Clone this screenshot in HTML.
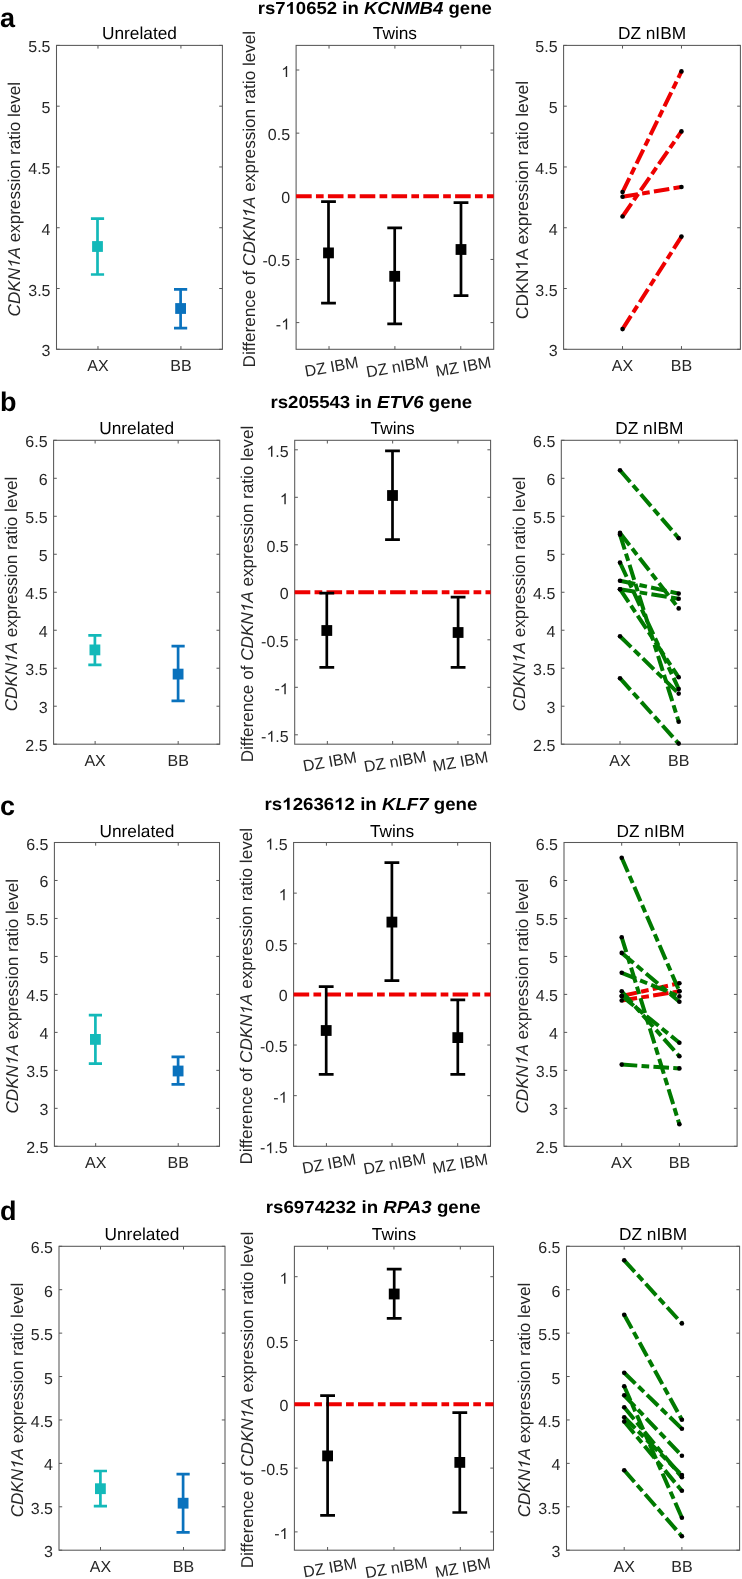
<!DOCTYPE html>
<html><head><meta charset="utf-8"><style>
html,body{margin:0;padding:0;background:#fff;}
body{width:742px;height:1579px;overflow:hidden;}
svg{display:block;text-rendering:geometricPrecision;will-change:transform;}
</style></head><body>
<svg width="742" height="1579" viewBox="0 0 742 1579" font-family='"Liberation Sans", sans-serif'>
<rect width="742" height="1579" fill="#fff"/>
<text x="0.00" y="26.50" font-size="27" text-anchor="start" font-weight="bold" font-style="normal" fill="#000" >a</text>
<text id="tx1" x="257.70" y="14.00" font-size="17.5" font-weight="bold" textLength="234.10" lengthAdjust="spacingAndGlyphs" fill="#000">rs7 0652 in <tspan font-style="italic">KCNMB4</tspan> gene</text>
<g fill="#000"><path transform="translate(285.55 14.00) scale(0.00908 -0.00818)" d="M806 0H525V1059C422 963 301 891 162 845V1100C235 1124 315 1169 401 1236C487 1303 546 1381 578 1472H806Z"/></g>
<path d="M97.97 349.30V346.10M97.97 45.40V48.60" stroke="#585858" stroke-width="1"/>
<path d="M180.93 349.30V346.10M180.93 45.40V48.60" stroke="#585858" stroke-width="1"/>
<path d="M56.50 349.30H59.70M222.40 349.30H219.20" stroke="#585858" stroke-width="1"/>
<path d="M56.50 288.52H59.70M222.40 288.52H219.20" stroke="#585858" stroke-width="1"/>
<path d="M56.50 227.74H59.70M222.40 227.74H219.20" stroke="#585858" stroke-width="1"/>
<path d="M56.50 166.96H59.70M222.40 166.96H219.20" stroke="#585858" stroke-width="1"/>
<path d="M56.50 106.18H59.70M222.40 106.18H219.20" stroke="#585858" stroke-width="1"/>
<path d="M56.50 45.40H59.70M222.40 45.40H219.20" stroke="#585858" stroke-width="1"/>
<rect x="56.50" y="45.40" width="165.90" height="303.90" fill="none" stroke="#585858" stroke-width="1.05"/>
<text x="50.50" y="356.30" font-size="16" text-anchor="end" font-weight="normal" font-style="normal" fill="#262626" >3</text>
<text x="50.50" y="295.52" font-size="16" text-anchor="end" font-weight="normal" font-style="normal" fill="#262626" >3.5</text>
<text x="50.50" y="234.74" font-size="16" text-anchor="end" font-weight="normal" font-style="normal" fill="#262626" >4</text>
<text x="50.50" y="173.96" font-size="16" text-anchor="end" font-weight="normal" font-style="normal" fill="#262626" >4.5</text>
<text x="50.50" y="113.18" font-size="16" text-anchor="end" font-weight="normal" font-style="normal" fill="#262626" >5</text>
<text x="50.50" y="52.40" font-size="16" text-anchor="end" font-weight="normal" font-style="normal" fill="#262626" >5.5</text>
<text x="97.97" y="371.30" font-size="16" text-anchor="middle" font-weight="normal" font-style="normal" fill="#262626" >AX</text>
<text x="180.93" y="371.30" font-size="16" text-anchor="middle" font-weight="normal" font-style="normal" fill="#262626" >BB</text>
<text x="139.45" y="39.40" font-size="17.3" text-anchor="middle" font-weight="normal" font-style="normal" fill="#000" >Unrelated</text>
<text id="tx2" transform="translate(19.80 199.15) rotate(-90)" font-size="17.1" text-anchor="middle" textLength="234.60" lengthAdjust="spacingAndGlyphs" fill="#262626"><tspan font-style="italic">CDKN A</tspan> expression ratio level</text>
<g fill="#262626" transform="translate(19.80 199.15) rotate(-90)"><path transform="translate(-68.89 0.00) scale(0.00837 -0.00799) skewX(12) translate(-140 0)" d="M763 0H583V1147C540 1106 483 1065 413 1024C343 983 280 952 224 930V1104C325 1151 413 1208 488 1276C563 1344 616 1409 648 1472H763Z"/></g>
<path d="M329.03 349.30V346.10M329.03 45.40V48.60" stroke="#585858" stroke-width="1"/>
<path d="M394.90 349.30V346.10M394.90 45.40V48.60" stroke="#585858" stroke-width="1"/>
<path d="M460.77 349.30V346.10M460.77 45.40V48.60" stroke="#585858" stroke-width="1"/>
<path d="M296.10 322.60H299.30M493.70 322.60H490.50" stroke="#585858" stroke-width="1"/>
<path d="M296.10 259.45H299.30M493.70 259.45H490.50" stroke="#585858" stroke-width="1"/>
<path d="M296.10 196.30H299.30M493.70 196.30H490.50" stroke="#585858" stroke-width="1"/>
<path d="M296.10 133.15H299.30M493.70 133.15H490.50" stroke="#585858" stroke-width="1"/>
<path d="M296.10 70.00H299.30M493.70 70.00H490.50" stroke="#585858" stroke-width="1"/>
<rect x="296.10" y="45.40" width="197.60" height="303.90" fill="none" stroke="#585858" stroke-width="1.05"/>
<text x="290.10" y="329.60" font-size="16" text-anchor="end" font-weight="normal" font-style="normal" fill="#262626" >- </text>
<path transform="translate(281.20 329.60) scale(0.00781 -0.00748)" d="M763 0H583V1147C540 1106 483 1065 413 1024C343 983 280 952 224 930V1104C325 1151 413 1208 488 1276C563 1344 616 1409 648 1472H763Z" fill="#262626"/>
<text x="290.10" y="266.45" font-size="16" text-anchor="end" font-weight="normal" font-style="normal" fill="#262626" >-0.5</text>
<text x="290.10" y="203.30" font-size="16" text-anchor="end" font-weight="normal" font-style="normal" fill="#262626" >0</text>
<text x="290.10" y="140.15" font-size="16" text-anchor="end" font-weight="normal" font-style="normal" fill="#262626" >0.5</text>
<text x="290.10" y="77.00" font-size="16" text-anchor="end" font-weight="normal" font-style="normal" fill="#262626" > </text>
<path transform="translate(281.20 77.00) scale(0.00781 -0.00748)" d="M763 0H583V1147C540 1106 483 1065 413 1024C343 983 280 952 224 930V1104C325 1151 413 1208 488 1276C563 1344 616 1409 648 1472H763Z" fill="#262626"/>
<text transform="translate(331.73 367.80) rotate(-10)" font-size="16" text-anchor="middle" fill="#262626" dominant-baseline="middle">DZ IBM</text>
<text transform="translate(397.60 367.80) rotate(-10)" font-size="16" text-anchor="middle" fill="#262626" dominant-baseline="middle">DZ nIBM</text>
<text transform="translate(463.47 367.80) rotate(-10)" font-size="16" text-anchor="middle" fill="#262626" dominant-baseline="middle">MZ IBM</text>
<text x="394.90" y="39.40" font-size="17.3" text-anchor="middle" font-weight="normal" font-style="normal" fill="#000" >Twins</text>
<text id="tx3" transform="translate(254.70 199.15) rotate(-90)" font-size="17.1" text-anchor="middle" textLength="336.60" lengthAdjust="spacingAndGlyphs" fill="#262626">Difference of <tspan font-style="italic">CDKN A</tspan> expression ratio level</text>
<g fill="#262626" transform="translate(254.70 199.15) rotate(-90)"><path transform="translate(-18.27 0.00) scale(0.00838 -0.00799) skewX(12) translate(-140 0)" d="M763 0H583V1147C540 1106 483 1065 413 1024C343 983 280 952 224 930V1104C325 1151 413 1208 488 1276C563 1344 616 1409 648 1472H763Z"/></g>
<path d="M622.53 349.30V346.10M622.53 45.40V48.60" stroke="#585858" stroke-width="1"/>
<path d="M681.47 349.30V346.10M681.47 45.40V48.60" stroke="#585858" stroke-width="1"/>
<path d="M563.60 349.30H566.80M740.40 349.30H737.20" stroke="#585858" stroke-width="1"/>
<path d="M563.60 288.52H566.80M740.40 288.52H737.20" stroke="#585858" stroke-width="1"/>
<path d="M563.60 227.74H566.80M740.40 227.74H737.20" stroke="#585858" stroke-width="1"/>
<path d="M563.60 166.96H566.80M740.40 166.96H737.20" stroke="#585858" stroke-width="1"/>
<path d="M563.60 106.18H566.80M740.40 106.18H737.20" stroke="#585858" stroke-width="1"/>
<path d="M563.60 45.40H566.80M740.40 45.40H737.20" stroke="#585858" stroke-width="1"/>
<rect x="563.60" y="45.40" width="176.80" height="303.90" fill="none" stroke="#585858" stroke-width="1.05"/>
<text x="557.60" y="356.30" font-size="16" text-anchor="end" font-weight="normal" font-style="normal" fill="#262626" >3</text>
<text x="557.60" y="295.52" font-size="16" text-anchor="end" font-weight="normal" font-style="normal" fill="#262626" >3.5</text>
<text x="557.60" y="234.74" font-size="16" text-anchor="end" font-weight="normal" font-style="normal" fill="#262626" >4</text>
<text x="557.60" y="173.96" font-size="16" text-anchor="end" font-weight="normal" font-style="normal" fill="#262626" >4.5</text>
<text x="557.60" y="113.18" font-size="16" text-anchor="end" font-weight="normal" font-style="normal" fill="#262626" >5</text>
<text x="557.60" y="52.40" font-size="16" text-anchor="end" font-weight="normal" font-style="normal" fill="#262626" >5.5</text>
<text x="622.53" y="371.30" font-size="16" text-anchor="middle" font-weight="normal" font-style="normal" fill="#262626" >AX</text>
<text x="681.47" y="371.30" font-size="16" text-anchor="middle" font-weight="normal" font-style="normal" fill="#262626" >BB</text>
<text x="652.00" y="39.40" font-size="17.3" text-anchor="middle" font-weight="normal" font-style="normal" fill="#000" >DZ nIBM</text>
<text id="tx4" transform="translate(527.60 200.05) rotate(-90)" font-size="17.1" text-anchor="middle" textLength="238.20" lengthAdjust="spacingAndGlyphs" fill="#262626">CDKN A expression ratio level</text>
<g fill="#262626" transform="translate(527.60 200.05) rotate(-90)"><path transform="translate(-69.75 0.00) scale(0.00853 -0.00799)" d="M763 0H583V1147C540 1106 483 1065 413 1024C343 983 280 952 224 930V1104C325 1151 413 1208 488 1276C563 1344 616 1409 648 1472H763Z"/></g>
<text x="0.00" y="411.20" font-size="27" text-anchor="start" font-weight="bold" font-style="normal" fill="#000" >b</text>
<text id="tx5" x="270.50" y="407.80" font-size="17.5" font-weight="bold" textLength="201.70" lengthAdjust="spacingAndGlyphs" fill="#000">rs205543 in <tspan font-style="italic">ETV6</tspan> gene</text>
<path d="M95.12 744.20V741.00M95.12 440.30V443.50" stroke="#585858" stroke-width="1"/>
<path d="M178.17 744.20V741.00M178.17 440.30V443.50" stroke="#585858" stroke-width="1"/>
<path d="M53.60 744.20H56.80M219.70 744.20H216.50" stroke="#585858" stroke-width="1"/>
<path d="M53.60 706.21H56.80M219.70 706.21H216.50" stroke="#585858" stroke-width="1"/>
<path d="M53.60 668.23H56.80M219.70 668.23H216.50" stroke="#585858" stroke-width="1"/>
<path d="M53.60 630.24H56.80M219.70 630.24H216.50" stroke="#585858" stroke-width="1"/>
<path d="M53.60 592.25H56.80M219.70 592.25H216.50" stroke="#585858" stroke-width="1"/>
<path d="M53.60 554.26H56.80M219.70 554.26H216.50" stroke="#585858" stroke-width="1"/>
<path d="M53.60 516.28H56.80M219.70 516.28H216.50" stroke="#585858" stroke-width="1"/>
<path d="M53.60 478.29H56.80M219.70 478.29H216.50" stroke="#585858" stroke-width="1"/>
<path d="M53.60 440.30H56.80M219.70 440.30H216.50" stroke="#585858" stroke-width="1"/>
<rect x="53.60" y="440.30" width="166.10" height="303.90" fill="none" stroke="#585858" stroke-width="1.05"/>
<text x="47.60" y="751.20" font-size="16" text-anchor="end" font-weight="normal" font-style="normal" fill="#262626" >2.5</text>
<text x="47.60" y="713.21" font-size="16" text-anchor="end" font-weight="normal" font-style="normal" fill="#262626" >3</text>
<text x="47.60" y="675.23" font-size="16" text-anchor="end" font-weight="normal" font-style="normal" fill="#262626" >3.5</text>
<text x="47.60" y="637.24" font-size="16" text-anchor="end" font-weight="normal" font-style="normal" fill="#262626" >4</text>
<text x="47.60" y="599.25" font-size="16" text-anchor="end" font-weight="normal" font-style="normal" fill="#262626" >4.5</text>
<text x="47.60" y="561.26" font-size="16" text-anchor="end" font-weight="normal" font-style="normal" fill="#262626" >5</text>
<text x="47.60" y="523.28" font-size="16" text-anchor="end" font-weight="normal" font-style="normal" fill="#262626" >5.5</text>
<text x="47.60" y="485.29" font-size="16" text-anchor="end" font-weight="normal" font-style="normal" fill="#262626" >6</text>
<text x="47.60" y="447.30" font-size="16" text-anchor="end" font-weight="normal" font-style="normal" fill="#262626" >6.5</text>
<text x="95.12" y="766.20" font-size="16" text-anchor="middle" font-weight="normal" font-style="normal" fill="#262626" >AX</text>
<text x="178.17" y="766.20" font-size="16" text-anchor="middle" font-weight="normal" font-style="normal" fill="#262626" >BB</text>
<text x="136.65" y="434.30" font-size="17.3" text-anchor="middle" font-weight="normal" font-style="normal" fill="#000" >Unrelated</text>
<text id="tx6" transform="translate(17.10 594.05) rotate(-90)" font-size="17.1" text-anchor="middle" textLength="234.60" lengthAdjust="spacingAndGlyphs" fill="#262626"><tspan font-style="italic">CDKN A</tspan> expression ratio level</text>
<g fill="#262626" transform="translate(17.10 594.05) rotate(-90)"><path transform="translate(-68.89 0.00) scale(0.00837 -0.00799) skewX(12) translate(-140 0)" d="M763 0H583V1147C540 1106 483 1065 413 1024C343 983 280 952 224 930V1104C325 1151 413 1208 488 1276C563 1344 616 1409 648 1472H763Z"/></g>
<path d="M327.35 744.20V741.00M327.35 440.30V443.50" stroke="#585858" stroke-width="1"/>
<path d="M392.65 744.20V741.00M392.65 440.30V443.50" stroke="#585858" stroke-width="1"/>
<path d="M457.95 744.20V741.00M457.95 440.30V443.50" stroke="#585858" stroke-width="1"/>
<path d="M294.70 734.80H297.90M490.60 734.80H487.40" stroke="#585858" stroke-width="1"/>
<path d="M294.70 687.30H297.90M490.60 687.30H487.40" stroke="#585858" stroke-width="1"/>
<path d="M294.70 639.80H297.90M490.60 639.80H487.40" stroke="#585858" stroke-width="1"/>
<path d="M294.70 592.30H297.90M490.60 592.30H487.40" stroke="#585858" stroke-width="1"/>
<path d="M294.70 544.80H297.90M490.60 544.80H487.40" stroke="#585858" stroke-width="1"/>
<path d="M294.70 497.30H297.90M490.60 497.30H487.40" stroke="#585858" stroke-width="1"/>
<path d="M294.70 449.80H297.90M490.60 449.80H487.40" stroke="#585858" stroke-width="1"/>
<rect x="294.70" y="440.30" width="195.90" height="303.90" fill="none" stroke="#585858" stroke-width="1.05"/>
<text x="288.70" y="741.80" font-size="16" text-anchor="end" font-weight="normal" font-style="normal" fill="#262626" >- .5</text>
<path transform="translate(266.46 741.80) scale(0.00781 -0.00748)" d="M763 0H583V1147C540 1106 483 1065 413 1024C343 983 280 952 224 930V1104C325 1151 413 1208 488 1276C563 1344 616 1409 648 1472H763Z" fill="#262626"/>
<text x="288.70" y="694.30" font-size="16" text-anchor="end" font-weight="normal" font-style="normal" fill="#262626" >- </text>
<path transform="translate(279.80 694.30) scale(0.00781 -0.00748)" d="M763 0H583V1147C540 1106 483 1065 413 1024C343 983 280 952 224 930V1104C325 1151 413 1208 488 1276C563 1344 616 1409 648 1472H763Z" fill="#262626"/>
<text x="288.70" y="646.80" font-size="16" text-anchor="end" font-weight="normal" font-style="normal" fill="#262626" >-0.5</text>
<text x="288.70" y="599.30" font-size="16" text-anchor="end" font-weight="normal" font-style="normal" fill="#262626" >0</text>
<text x="288.70" y="551.80" font-size="16" text-anchor="end" font-weight="normal" font-style="normal" fill="#262626" >0.5</text>
<text x="288.70" y="504.30" font-size="16" text-anchor="end" font-weight="normal" font-style="normal" fill="#262626" > </text>
<path transform="translate(279.80 504.30) scale(0.00781 -0.00748)" d="M763 0H583V1147C540 1106 483 1065 413 1024C343 983 280 952 224 930V1104C325 1151 413 1208 488 1276C563 1344 616 1409 648 1472H763Z" fill="#262626"/>
<text x="288.70" y="456.80" font-size="16" text-anchor="end" font-weight="normal" font-style="normal" fill="#262626" > .5</text>
<path transform="translate(266.46 456.80) scale(0.00781 -0.00748)" d="M763 0H583V1147C540 1106 483 1065 413 1024C343 983 280 952 224 930V1104C325 1151 413 1208 488 1276C563 1344 616 1409 648 1472H763Z" fill="#262626"/>
<text transform="translate(330.05 762.70) rotate(-10)" font-size="16" text-anchor="middle" fill="#262626" dominant-baseline="middle">DZ IBM</text>
<text transform="translate(395.35 762.70) rotate(-10)" font-size="16" text-anchor="middle" fill="#262626" dominant-baseline="middle">DZ nIBM</text>
<text transform="translate(460.65 762.70) rotate(-10)" font-size="16" text-anchor="middle" fill="#262626" dominant-baseline="middle">MZ IBM</text>
<text x="392.65" y="434.30" font-size="17.3" text-anchor="middle" font-weight="normal" font-style="normal" fill="#000" >Twins</text>
<text id="tx7" transform="translate(252.90 594.05) rotate(-90)" font-size="17.1" text-anchor="middle" textLength="336.60" lengthAdjust="spacingAndGlyphs" fill="#262626">Difference of <tspan font-style="italic">CDKN A</tspan> expression ratio level</text>
<g fill="#262626" transform="translate(252.90 594.05) rotate(-90)"><path transform="translate(-18.27 0.00) scale(0.00838 -0.00799) skewX(12) translate(-140 0)" d="M763 0H583V1147C540 1106 483 1065 413 1024C343 983 280 952 224 930V1104C325 1151 413 1208 488 1276C563 1344 616 1409 648 1472H763Z"/></g>
<path d="M620.00 744.20V741.00M620.00 440.30V443.50" stroke="#585858" stroke-width="1"/>
<path d="M678.70 744.20V741.00M678.70 440.30V443.50" stroke="#585858" stroke-width="1"/>
<path d="M561.30 744.20H564.50M737.40 744.20H734.20" stroke="#585858" stroke-width="1"/>
<path d="M561.30 706.21H564.50M737.40 706.21H734.20" stroke="#585858" stroke-width="1"/>
<path d="M561.30 668.23H564.50M737.40 668.23H734.20" stroke="#585858" stroke-width="1"/>
<path d="M561.30 630.24H564.50M737.40 630.24H734.20" stroke="#585858" stroke-width="1"/>
<path d="M561.30 592.25H564.50M737.40 592.25H734.20" stroke="#585858" stroke-width="1"/>
<path d="M561.30 554.26H564.50M737.40 554.26H734.20" stroke="#585858" stroke-width="1"/>
<path d="M561.30 516.28H564.50M737.40 516.28H734.20" stroke="#585858" stroke-width="1"/>
<path d="M561.30 478.29H564.50M737.40 478.29H734.20" stroke="#585858" stroke-width="1"/>
<path d="M561.30 440.30H564.50M737.40 440.30H734.20" stroke="#585858" stroke-width="1"/>
<rect x="561.30" y="440.30" width="176.10" height="303.90" fill="none" stroke="#585858" stroke-width="1.05"/>
<text x="555.30" y="751.20" font-size="16" text-anchor="end" font-weight="normal" font-style="normal" fill="#262626" >2.5</text>
<text x="555.30" y="713.21" font-size="16" text-anchor="end" font-weight="normal" font-style="normal" fill="#262626" >3</text>
<text x="555.30" y="675.23" font-size="16" text-anchor="end" font-weight="normal" font-style="normal" fill="#262626" >3.5</text>
<text x="555.30" y="637.24" font-size="16" text-anchor="end" font-weight="normal" font-style="normal" fill="#262626" >4</text>
<text x="555.30" y="599.25" font-size="16" text-anchor="end" font-weight="normal" font-style="normal" fill="#262626" >4.5</text>
<text x="555.30" y="561.26" font-size="16" text-anchor="end" font-weight="normal" font-style="normal" fill="#262626" >5</text>
<text x="555.30" y="523.28" font-size="16" text-anchor="end" font-weight="normal" font-style="normal" fill="#262626" >5.5</text>
<text x="555.30" y="485.29" font-size="16" text-anchor="end" font-weight="normal" font-style="normal" fill="#262626" >6</text>
<text x="555.30" y="447.30" font-size="16" text-anchor="end" font-weight="normal" font-style="normal" fill="#262626" >6.5</text>
<text x="620.00" y="766.20" font-size="16" text-anchor="middle" font-weight="normal" font-style="normal" fill="#262626" >AX</text>
<text x="678.70" y="766.20" font-size="16" text-anchor="middle" font-weight="normal" font-style="normal" fill="#262626" >BB</text>
<text x="649.35" y="434.30" font-size="17.3" text-anchor="middle" font-weight="normal" font-style="normal" fill="#000" >DZ nIBM</text>
<text id="tx8" transform="translate(524.70 594.05) rotate(-90)" font-size="17.1" text-anchor="middle" textLength="234.60" lengthAdjust="spacingAndGlyphs" fill="#262626"><tspan font-style="italic">CDKN A</tspan> expression ratio level</text>
<g fill="#262626" transform="translate(524.70 594.05) rotate(-90)"><path transform="translate(-68.89 0.00) scale(0.00837 -0.00799) skewX(12) translate(-140 0)" d="M763 0H583V1147C540 1106 483 1065 413 1024C343 983 280 952 224 930V1104C325 1151 413 1208 488 1276C563 1344 616 1409 648 1472H763Z"/></g>
<text x="0.00" y="815.00" font-size="27" text-anchor="start" font-weight="bold" font-style="normal" fill="#000" >c</text>
<text id="tx9" x="264.60" y="809.80" font-size="17.5" font-weight="bold" textLength="212.80" lengthAdjust="spacingAndGlyphs" fill="#000">rs 2636 2 in <tspan font-style="italic">KLF7</tspan> gene</text>
<g fill="#000"><path transform="translate(282.24 809.80) scale(0.00913 -0.00818)" d="M806 0H525V1059C422 963 301 891 162 845V1100C235 1124 315 1169 401 1236C487 1303 546 1381 578 1472H806Z"/><path transform="translate(334.18 809.80) scale(0.00913 -0.00818)" d="M806 0H525V1059C422 963 301 891 162 845V1100C235 1124 315 1169 401 1236C487 1303 546 1381 578 1472H806Z"/></g>
<path d="M95.67 1146.30V1143.10M95.67 842.50V845.70" stroke="#585858" stroke-width="1"/>
<path d="M178.22 1146.30V1143.10M178.22 842.50V845.70" stroke="#585858" stroke-width="1"/>
<path d="M54.40 1146.30H57.60M219.50 1146.30H216.30" stroke="#585858" stroke-width="1"/>
<path d="M54.40 1108.33H57.60M219.50 1108.33H216.30" stroke="#585858" stroke-width="1"/>
<path d="M54.40 1070.35H57.60M219.50 1070.35H216.30" stroke="#585858" stroke-width="1"/>
<path d="M54.40 1032.38H57.60M219.50 1032.38H216.30" stroke="#585858" stroke-width="1"/>
<path d="M54.40 994.40H57.60M219.50 994.40H216.30" stroke="#585858" stroke-width="1"/>
<path d="M54.40 956.42H57.60M219.50 956.42H216.30" stroke="#585858" stroke-width="1"/>
<path d="M54.40 918.45H57.60M219.50 918.45H216.30" stroke="#585858" stroke-width="1"/>
<path d="M54.40 880.48H57.60M219.50 880.48H216.30" stroke="#585858" stroke-width="1"/>
<path d="M54.40 842.50H57.60M219.50 842.50H216.30" stroke="#585858" stroke-width="1"/>
<rect x="54.40" y="842.50" width="165.10" height="303.80" fill="none" stroke="#585858" stroke-width="1.05"/>
<text x="48.40" y="1153.30" font-size="16" text-anchor="end" font-weight="normal" font-style="normal" fill="#262626" >2.5</text>
<text x="48.40" y="1115.33" font-size="16" text-anchor="end" font-weight="normal" font-style="normal" fill="#262626" >3</text>
<text x="48.40" y="1077.35" font-size="16" text-anchor="end" font-weight="normal" font-style="normal" fill="#262626" >3.5</text>
<text x="48.40" y="1039.38" font-size="16" text-anchor="end" font-weight="normal" font-style="normal" fill="#262626" >4</text>
<text x="48.40" y="1001.40" font-size="16" text-anchor="end" font-weight="normal" font-style="normal" fill="#262626" >4.5</text>
<text x="48.40" y="963.42" font-size="16" text-anchor="end" font-weight="normal" font-style="normal" fill="#262626" >5</text>
<text x="48.40" y="925.45" font-size="16" text-anchor="end" font-weight="normal" font-style="normal" fill="#262626" >5.5</text>
<text x="48.40" y="887.48" font-size="16" text-anchor="end" font-weight="normal" font-style="normal" fill="#262626" >6</text>
<text x="48.40" y="849.50" font-size="16" text-anchor="end" font-weight="normal" font-style="normal" fill="#262626" >6.5</text>
<text x="95.67" y="1168.30" font-size="16" text-anchor="middle" font-weight="normal" font-style="normal" fill="#262626" >AX</text>
<text x="178.22" y="1168.30" font-size="16" text-anchor="middle" font-weight="normal" font-style="normal" fill="#262626" >BB</text>
<text x="136.95" y="836.50" font-size="17.3" text-anchor="middle" font-weight="normal" font-style="normal" fill="#000" >Unrelated</text>
<text id="tx10" transform="translate(17.80 996.20) rotate(-90)" font-size="17.1" text-anchor="middle" textLength="234.60" lengthAdjust="spacingAndGlyphs" fill="#262626"><tspan font-style="italic">CDKN A</tspan> expression ratio level</text>
<g fill="#262626" transform="translate(17.80 996.20) rotate(-90)"><path transform="translate(-68.89 0.00) scale(0.00837 -0.00799) skewX(12) translate(-140 0)" d="M763 0H583V1147C540 1106 483 1065 413 1024C343 983 280 952 224 930V1104C325 1151 413 1208 488 1276C563 1344 616 1409 648 1472H763Z"/></g>
<path d="M326.42 1146.30V1143.10M326.42 842.50V845.70" stroke="#585858" stroke-width="1"/>
<path d="M392.05 1146.30V1143.10M392.05 842.50V845.70" stroke="#585858" stroke-width="1"/>
<path d="M457.68 1146.30V1143.10M457.68 842.50V845.70" stroke="#585858" stroke-width="1"/>
<path d="M293.60 1146.31H296.80M490.50 1146.31H487.30" stroke="#585858" stroke-width="1"/>
<path d="M293.60 1095.67H296.80M490.50 1095.67H487.30" stroke="#585858" stroke-width="1"/>
<path d="M293.60 1045.04H296.80M490.50 1045.04H487.30" stroke="#585858" stroke-width="1"/>
<path d="M293.60 994.40H296.80M490.50 994.40H487.30" stroke="#585858" stroke-width="1"/>
<path d="M293.60 943.76H296.80M490.50 943.76H487.30" stroke="#585858" stroke-width="1"/>
<path d="M293.60 893.13H296.80M490.50 893.13H487.30" stroke="#585858" stroke-width="1"/>
<path d="M293.60 842.50H296.80M490.50 842.50H487.30" stroke="#585858" stroke-width="1"/>
<rect x="293.60" y="842.50" width="196.90" height="303.80" fill="none" stroke="#585858" stroke-width="1.05"/>
<text x="287.60" y="1153.31" font-size="16" text-anchor="end" font-weight="normal" font-style="normal" fill="#262626" >- .5</text>
<path transform="translate(265.36 1153.31) scale(0.00781 -0.00748)" d="M763 0H583V1147C540 1106 483 1065 413 1024C343 983 280 952 224 930V1104C325 1151 413 1208 488 1276C563 1344 616 1409 648 1472H763Z" fill="#262626"/>
<text x="287.60" y="1102.67" font-size="16" text-anchor="end" font-weight="normal" font-style="normal" fill="#262626" >- </text>
<path transform="translate(278.70 1102.67) scale(0.00781 -0.00748)" d="M763 0H583V1147C540 1106 483 1065 413 1024C343 983 280 952 224 930V1104C325 1151 413 1208 488 1276C563 1344 616 1409 648 1472H763Z" fill="#262626"/>
<text x="287.60" y="1052.04" font-size="16" text-anchor="end" font-weight="normal" font-style="normal" fill="#262626" >-0.5</text>
<text x="287.60" y="1001.40" font-size="16" text-anchor="end" font-weight="normal" font-style="normal" fill="#262626" >0</text>
<text x="287.60" y="950.76" font-size="16" text-anchor="end" font-weight="normal" font-style="normal" fill="#262626" >0.5</text>
<text x="287.60" y="900.13" font-size="16" text-anchor="end" font-weight="normal" font-style="normal" fill="#262626" > </text>
<path transform="translate(278.70 900.13) scale(0.00781 -0.00748)" d="M763 0H583V1147C540 1106 483 1065 413 1024C343 983 280 952 224 930V1104C325 1151 413 1208 488 1276C563 1344 616 1409 648 1472H763Z" fill="#262626"/>
<text x="287.60" y="849.50" font-size="16" text-anchor="end" font-weight="normal" font-style="normal" fill="#262626" > .5</text>
<path transform="translate(265.36 849.50) scale(0.00781 -0.00748)" d="M763 0H583V1147C540 1106 483 1065 413 1024C343 983 280 952 224 930V1104C325 1151 413 1208 488 1276C563 1344 616 1409 648 1472H763Z" fill="#262626"/>
<text transform="translate(329.12 1164.80) rotate(-10)" font-size="16" text-anchor="middle" fill="#262626" dominant-baseline="middle">DZ IBM</text>
<text transform="translate(394.75 1164.80) rotate(-10)" font-size="16" text-anchor="middle" fill="#262626" dominant-baseline="middle">DZ nIBM</text>
<text transform="translate(460.38 1164.80) rotate(-10)" font-size="16" text-anchor="middle" fill="#262626" dominant-baseline="middle">MZ IBM</text>
<text x="392.05" y="836.50" font-size="17.3" text-anchor="middle" font-weight="normal" font-style="normal" fill="#000" >Twins</text>
<text id="tx11" transform="translate(252.10 996.20) rotate(-90)" font-size="17.1" text-anchor="middle" textLength="336.60" lengthAdjust="spacingAndGlyphs" fill="#262626">Difference of <tspan font-style="italic">CDKN A</tspan> expression ratio level</text>
<g fill="#262626" transform="translate(252.10 996.20) rotate(-90)"><path transform="translate(-18.27 0.00) scale(0.00838 -0.00799) skewX(12) translate(-140 0)" d="M763 0H583V1147C540 1106 483 1065 413 1024C343 983 280 952 224 930V1104C325 1151 413 1208 488 1276C563 1344 616 1409 648 1472H763Z"/></g>
<path d="M621.70 1146.30V1143.10M621.70 842.50V845.70" stroke="#585858" stroke-width="1"/>
<path d="M679.40 1146.30V1143.10M679.40 842.50V845.70" stroke="#585858" stroke-width="1"/>
<path d="M564.00 1146.30H567.20M737.10 1146.30H733.90" stroke="#585858" stroke-width="1"/>
<path d="M564.00 1108.33H567.20M737.10 1108.33H733.90" stroke="#585858" stroke-width="1"/>
<path d="M564.00 1070.35H567.20M737.10 1070.35H733.90" stroke="#585858" stroke-width="1"/>
<path d="M564.00 1032.38H567.20M737.10 1032.38H733.90" stroke="#585858" stroke-width="1"/>
<path d="M564.00 994.40H567.20M737.10 994.40H733.90" stroke="#585858" stroke-width="1"/>
<path d="M564.00 956.42H567.20M737.10 956.42H733.90" stroke="#585858" stroke-width="1"/>
<path d="M564.00 918.45H567.20M737.10 918.45H733.90" stroke="#585858" stroke-width="1"/>
<path d="M564.00 880.48H567.20M737.10 880.48H733.90" stroke="#585858" stroke-width="1"/>
<path d="M564.00 842.50H567.20M737.10 842.50H733.90" stroke="#585858" stroke-width="1"/>
<rect x="564.00" y="842.50" width="173.10" height="303.80" fill="none" stroke="#585858" stroke-width="1.05"/>
<text x="558.00" y="1153.30" font-size="16" text-anchor="end" font-weight="normal" font-style="normal" fill="#262626" >2.5</text>
<text x="558.00" y="1115.33" font-size="16" text-anchor="end" font-weight="normal" font-style="normal" fill="#262626" >3</text>
<text x="558.00" y="1077.35" font-size="16" text-anchor="end" font-weight="normal" font-style="normal" fill="#262626" >3.5</text>
<text x="558.00" y="1039.38" font-size="16" text-anchor="end" font-weight="normal" font-style="normal" fill="#262626" >4</text>
<text x="558.00" y="1001.40" font-size="16" text-anchor="end" font-weight="normal" font-style="normal" fill="#262626" >4.5</text>
<text x="558.00" y="963.42" font-size="16" text-anchor="end" font-weight="normal" font-style="normal" fill="#262626" >5</text>
<text x="558.00" y="925.45" font-size="16" text-anchor="end" font-weight="normal" font-style="normal" fill="#262626" >5.5</text>
<text x="558.00" y="887.48" font-size="16" text-anchor="end" font-weight="normal" font-style="normal" fill="#262626" >6</text>
<text x="558.00" y="849.50" font-size="16" text-anchor="end" font-weight="normal" font-style="normal" fill="#262626" >6.5</text>
<text x="621.70" y="1168.30" font-size="16" text-anchor="middle" font-weight="normal" font-style="normal" fill="#262626" >AX</text>
<text x="679.40" y="1168.30" font-size="16" text-anchor="middle" font-weight="normal" font-style="normal" fill="#262626" >BB</text>
<text x="650.55" y="836.50" font-size="17.3" text-anchor="middle" font-weight="normal" font-style="normal" fill="#000" >DZ nIBM</text>
<text id="tx12" transform="translate(527.50 996.20) rotate(-90)" font-size="17.1" text-anchor="middle" textLength="234.60" lengthAdjust="spacingAndGlyphs" fill="#262626"><tspan font-style="italic">CDKN A</tspan> expression ratio level</text>
<g fill="#262626" transform="translate(527.50 996.20) rotate(-90)"><path transform="translate(-68.89 0.00) scale(0.00837 -0.00799) skewX(12) translate(-140 0)" d="M763 0H583V1147C540 1106 483 1065 413 1024C343 983 280 952 224 930V1104C325 1151 413 1208 488 1276C563 1344 616 1409 648 1472H763Z"/></g>
<text x="0.00" y="1219.90" font-size="27" text-anchor="start" font-weight="bold" font-style="normal" fill="#000" >d</text>
<text id="tx13" x="265.80" y="1213.40" font-size="17.5" font-weight="bold" textLength="214.80" lengthAdjust="spacingAndGlyphs" fill="#000">rs6974232 in <tspan font-style="italic">RPA3</tspan> gene</text>
<path d="M100.50 1550.20V1547.00M100.50 1246.30V1249.50" stroke="#585858" stroke-width="1"/>
<path d="M183.50 1550.20V1547.00M183.50 1246.30V1249.50" stroke="#585858" stroke-width="1"/>
<path d="M59.00 1550.20H62.20M225.00 1550.20H221.80" stroke="#585858" stroke-width="1"/>
<path d="M59.00 1506.79H62.20M225.00 1506.79H221.80" stroke="#585858" stroke-width="1"/>
<path d="M59.00 1463.37H62.20M225.00 1463.37H221.80" stroke="#585858" stroke-width="1"/>
<path d="M59.00 1419.96H62.20M225.00 1419.96H221.80" stroke="#585858" stroke-width="1"/>
<path d="M59.00 1376.54H62.20M225.00 1376.54H221.80" stroke="#585858" stroke-width="1"/>
<path d="M59.00 1333.13H62.20M225.00 1333.13H221.80" stroke="#585858" stroke-width="1"/>
<path d="M59.00 1289.71H62.20M225.00 1289.71H221.80" stroke="#585858" stroke-width="1"/>
<path d="M59.00 1246.30H62.20M225.00 1246.30H221.80" stroke="#585858" stroke-width="1"/>
<rect x="59.00" y="1246.30" width="166.00" height="303.90" fill="none" stroke="#585858" stroke-width="1.05"/>
<text x="53.00" y="1557.20" font-size="16" text-anchor="end" font-weight="normal" font-style="normal" fill="#262626" >3</text>
<text x="53.00" y="1513.79" font-size="16" text-anchor="end" font-weight="normal" font-style="normal" fill="#262626" >3.5</text>
<text x="53.00" y="1470.37" font-size="16" text-anchor="end" font-weight="normal" font-style="normal" fill="#262626" >4</text>
<text x="53.00" y="1426.96" font-size="16" text-anchor="end" font-weight="normal" font-style="normal" fill="#262626" >4.5</text>
<text x="53.00" y="1383.54" font-size="16" text-anchor="end" font-weight="normal" font-style="normal" fill="#262626" >5</text>
<text x="53.00" y="1340.13" font-size="16" text-anchor="end" font-weight="normal" font-style="normal" fill="#262626" >5.5</text>
<text x="53.00" y="1296.71" font-size="16" text-anchor="end" font-weight="normal" font-style="normal" fill="#262626" >6</text>
<text x="53.00" y="1253.30" font-size="16" text-anchor="end" font-weight="normal" font-style="normal" fill="#262626" >6.5</text>
<text x="100.50" y="1572.20" font-size="16" text-anchor="middle" font-weight="normal" font-style="normal" fill="#262626" >AX</text>
<text x="183.50" y="1572.20" font-size="16" text-anchor="middle" font-weight="normal" font-style="normal" fill="#262626" >BB</text>
<text x="142.00" y="1240.30" font-size="17.3" text-anchor="middle" font-weight="normal" font-style="normal" fill="#000" >Unrelated</text>
<text id="tx14" transform="translate(22.90 1400.05) rotate(-90)" font-size="17.1" text-anchor="middle" textLength="234.60" lengthAdjust="spacingAndGlyphs" fill="#262626"><tspan font-style="italic">CDKN A</tspan> expression ratio level</text>
<g fill="#262626" transform="translate(22.90 1400.05) rotate(-90)"><path transform="translate(-68.89 0.00) scale(0.00837 -0.00799) skewX(12) translate(-140 0)" d="M763 0H583V1147C540 1106 483 1065 413 1024C343 983 280 952 224 930V1104C325 1151 413 1208 488 1276C563 1344 616 1409 648 1472H763Z"/></g>
<path d="M327.58 1550.20V1547.00M327.58 1246.30V1249.50" stroke="#585858" stroke-width="1"/>
<path d="M393.95 1550.20V1547.00M393.95 1246.30V1249.50" stroke="#585858" stroke-width="1"/>
<path d="M460.32 1550.20V1547.00M460.32 1246.30V1249.50" stroke="#585858" stroke-width="1"/>
<path d="M294.40 1531.90H297.60M493.50 1531.90H490.30" stroke="#585858" stroke-width="1"/>
<path d="M294.40 1468.10H297.60M493.50 1468.10H490.30" stroke="#585858" stroke-width="1"/>
<path d="M294.40 1404.30H297.60M493.50 1404.30H490.30" stroke="#585858" stroke-width="1"/>
<path d="M294.40 1340.50H297.60M493.50 1340.50H490.30" stroke="#585858" stroke-width="1"/>
<path d="M294.40 1276.70H297.60M493.50 1276.70H490.30" stroke="#585858" stroke-width="1"/>
<rect x="294.40" y="1246.30" width="199.10" height="303.90" fill="none" stroke="#585858" stroke-width="1.05"/>
<text x="288.40" y="1538.90" font-size="16" text-anchor="end" font-weight="normal" font-style="normal" fill="#262626" >- </text>
<path transform="translate(279.50 1538.90) scale(0.00781 -0.00748)" d="M763 0H583V1147C540 1106 483 1065 413 1024C343 983 280 952 224 930V1104C325 1151 413 1208 488 1276C563 1344 616 1409 648 1472H763Z" fill="#262626"/>
<text x="288.40" y="1475.10" font-size="16" text-anchor="end" font-weight="normal" font-style="normal" fill="#262626" >-0.5</text>
<text x="288.40" y="1411.30" font-size="16" text-anchor="end" font-weight="normal" font-style="normal" fill="#262626" >0</text>
<text x="288.40" y="1347.50" font-size="16" text-anchor="end" font-weight="normal" font-style="normal" fill="#262626" >0.5</text>
<text x="288.40" y="1283.70" font-size="16" text-anchor="end" font-weight="normal" font-style="normal" fill="#262626" > </text>
<path transform="translate(279.50 1283.70) scale(0.00781 -0.00748)" d="M763 0H583V1147C540 1106 483 1065 413 1024C343 983 280 952 224 930V1104C325 1151 413 1208 488 1276C563 1344 616 1409 648 1472H763Z" fill="#262626"/>
<text transform="translate(330.28 1568.70) rotate(-10)" font-size="16" text-anchor="middle" fill="#262626" dominant-baseline="middle">DZ IBM</text>
<text transform="translate(396.65 1568.70) rotate(-10)" font-size="16" text-anchor="middle" fill="#262626" dominant-baseline="middle">DZ nIBM</text>
<text transform="translate(463.02 1568.70) rotate(-10)" font-size="16" text-anchor="middle" fill="#262626" dominant-baseline="middle">MZ IBM</text>
<text x="393.95" y="1240.30" font-size="17.3" text-anchor="middle" font-weight="normal" font-style="normal" fill="#000" >Twins</text>
<text id="tx15" transform="translate(253.10 1400.05) rotate(-90)" font-size="17.1" text-anchor="middle" textLength="336.60" lengthAdjust="spacingAndGlyphs" fill="#262626">Difference of <tspan font-style="italic">CDKN A</tspan> expression ratio level</text>
<g fill="#262626" transform="translate(253.10 1400.05) rotate(-90)"><path transform="translate(-18.27 0.00) scale(0.00838 -0.00799) skewX(12) translate(-140 0)" d="M763 0H583V1147C540 1106 483 1065 413 1024C343 983 280 952 224 930V1104C325 1151 413 1208 488 1276C563 1344 616 1409 648 1472H763Z"/></g>
<path d="M624.20 1550.20V1547.00M624.20 1246.30V1249.50" stroke="#585858" stroke-width="1"/>
<path d="M681.90 1550.20V1547.00M681.90 1246.30V1249.50" stroke="#585858" stroke-width="1"/>
<path d="M566.50 1550.20H569.70M739.60 1550.20H736.40" stroke="#585858" stroke-width="1"/>
<path d="M566.50 1506.79H569.70M739.60 1506.79H736.40" stroke="#585858" stroke-width="1"/>
<path d="M566.50 1463.37H569.70M739.60 1463.37H736.40" stroke="#585858" stroke-width="1"/>
<path d="M566.50 1419.96H569.70M739.60 1419.96H736.40" stroke="#585858" stroke-width="1"/>
<path d="M566.50 1376.54H569.70M739.60 1376.54H736.40" stroke="#585858" stroke-width="1"/>
<path d="M566.50 1333.13H569.70M739.60 1333.13H736.40" stroke="#585858" stroke-width="1"/>
<path d="M566.50 1289.71H569.70M739.60 1289.71H736.40" stroke="#585858" stroke-width="1"/>
<path d="M566.50 1246.30H569.70M739.60 1246.30H736.40" stroke="#585858" stroke-width="1"/>
<rect x="566.50" y="1246.30" width="173.10" height="303.90" fill="none" stroke="#585858" stroke-width="1.05"/>
<text x="560.50" y="1557.20" font-size="16" text-anchor="end" font-weight="normal" font-style="normal" fill="#262626" >3</text>
<text x="560.50" y="1513.79" font-size="16" text-anchor="end" font-weight="normal" font-style="normal" fill="#262626" >3.5</text>
<text x="560.50" y="1470.37" font-size="16" text-anchor="end" font-weight="normal" font-style="normal" fill="#262626" >4</text>
<text x="560.50" y="1426.96" font-size="16" text-anchor="end" font-weight="normal" font-style="normal" fill="#262626" >4.5</text>
<text x="560.50" y="1383.54" font-size="16" text-anchor="end" font-weight="normal" font-style="normal" fill="#262626" >5</text>
<text x="560.50" y="1340.13" font-size="16" text-anchor="end" font-weight="normal" font-style="normal" fill="#262626" >5.5</text>
<text x="560.50" y="1296.71" font-size="16" text-anchor="end" font-weight="normal" font-style="normal" fill="#262626" >6</text>
<text x="560.50" y="1253.30" font-size="16" text-anchor="end" font-weight="normal" font-style="normal" fill="#262626" >6.5</text>
<text x="624.20" y="1572.20" font-size="16" text-anchor="middle" font-weight="normal" font-style="normal" fill="#262626" >AX</text>
<text x="681.90" y="1572.20" font-size="16" text-anchor="middle" font-weight="normal" font-style="normal" fill="#262626" >BB</text>
<text x="653.05" y="1240.30" font-size="17.3" text-anchor="middle" font-weight="normal" font-style="normal" fill="#000" >DZ nIBM</text>
<text id="tx16" transform="translate(530.00 1400.05) rotate(-90)" font-size="17.1" text-anchor="middle" textLength="234.60" lengthAdjust="spacingAndGlyphs" fill="#262626"><tspan font-style="italic">CDKN A</tspan> expression ratio level</text>
<g fill="#262626" transform="translate(530.00 1400.05) rotate(-90)"><path transform="translate(-68.89 0.00) scale(0.00837 -0.00799) skewX(12) translate(-140 0)" d="M763 0H583V1147C540 1106 483 1065 413 1024C343 983 280 952 224 930V1104C325 1151 413 1208 488 1276C563 1344 616 1409 648 1472H763Z"/></g>
<path d="M97.50 218.70V274.50M90.90 218.70H104.10M90.90 274.50H104.10" stroke="#13b9b9" stroke-width="2.7" fill="none"/>
<rect x="92.10" y="241.10" width="10.80" height="10.80" fill="#13b9b9"/>
<path d="M180.60 289.40V328.20M174.00 289.40H187.20M174.00 328.20H187.20" stroke="#0a72bd" stroke-width="2.7" fill="none"/>
<rect x="175.20" y="303.10" width="10.80" height="10.80" fill="#0a72bd"/>
<path d="M94.90 635.30V664.90M88.30 635.30H101.50M88.30 664.90H101.50" stroke="#13b9b9" stroke-width="2.7" fill="none"/>
<rect x="89.50" y="644.50" width="10.80" height="10.80" fill="#13b9b9"/>
<path d="M178.10 646.20V700.80M171.50 646.20H184.70M171.50 700.80H184.70" stroke="#0a72bd" stroke-width="2.7" fill="none"/>
<rect x="172.70" y="668.70" width="10.80" height="10.80" fill="#0a72bd"/>
<path d="M95.40 1015.20V1063.70M88.80 1015.20H102.00M88.80 1063.70H102.00" stroke="#13b9b9" stroke-width="2.7" fill="none"/>
<rect x="90.00" y="1034.00" width="10.80" height="10.80" fill="#13b9b9"/>
<path d="M178.10 1056.90V1084.30M171.50 1056.90H184.70M171.50 1084.30H184.70" stroke="#0a72bd" stroke-width="2.7" fill="none"/>
<rect x="172.70" y="1065.60" width="10.80" height="10.80" fill="#0a72bd"/>
<path d="M100.40 1471.00V1506.20M93.80 1471.00H107.00M93.80 1506.20H107.00" stroke="#13b9b9" stroke-width="2.7" fill="none"/>
<rect x="95.00" y="1483.30" width="10.80" height="10.80" fill="#13b9b9"/>
<path d="M183.10 1474.10V1532.40M176.50 1474.10H189.70M176.50 1532.40H189.70" stroke="#0a72bd" stroke-width="2.7" fill="none"/>
<rect x="177.70" y="1497.80" width="10.80" height="10.80" fill="#0a72bd"/>
<path d="M296.10 196.30L493.70 196.30" stroke="#ee0000" stroke-width="4.0" stroke-dasharray="15.6 4.25 7.7 4.25" fill="none"/>
<path d="M328.50 201.60V303.20M321.10 201.60H335.90M321.10 303.20H335.90" stroke="#000" stroke-width="2.7" fill="none"/>
<rect x="323.10" y="247.50" width="10.80" height="10.80" fill="#000"/>
<path d="M394.70 227.90V323.90M387.30 227.90H402.10M387.30 323.90H402.10" stroke="#000" stroke-width="2.7" fill="none"/>
<rect x="389.30" y="270.90" width="10.80" height="10.80" fill="#000"/>
<path d="M461.00 202.70V295.60M453.60 202.70H468.40M453.60 295.60H468.40" stroke="#000" stroke-width="2.7" fill="none"/>
<rect x="455.60" y="244.10" width="10.80" height="10.80" fill="#000"/>
<path d="M294.70 592.30L490.60 592.30" stroke="#ee0000" stroke-width="4.0" stroke-dasharray="15.6 4.25 7.7 4.25" fill="none"/>
<path d="M326.80 593.10V667.30M319.40 593.10H334.20M319.40 667.30H334.20" stroke="#000" stroke-width="2.7" fill="none"/>
<rect x="321.40" y="625.10" width="10.80" height="10.80" fill="#000"/>
<path d="M392.50 450.80V539.60M385.10 450.80H399.90M385.10 539.60H399.90" stroke="#000" stroke-width="2.7" fill="none"/>
<rect x="387.10" y="490.10" width="10.80" height="10.80" fill="#000"/>
<path d="M458.10 597.10V667.30M450.70 597.10H465.50M450.70 667.30H465.50" stroke="#000" stroke-width="2.7" fill="none"/>
<rect x="452.70" y="627.10" width="10.80" height="10.80" fill="#000"/>
<path d="M293.60 994.40L490.50 994.40" stroke="#ee0000" stroke-width="4.0" stroke-dasharray="15.6 4.25 7.7 4.25" fill="none"/>
<path d="M326.20 986.60V1074.40M318.80 986.60H333.60M318.80 1074.40H333.60" stroke="#000" stroke-width="2.7" fill="none"/>
<rect x="320.80" y="1025.10" width="10.80" height="10.80" fill="#000"/>
<path d="M391.90 862.60V980.70M384.50 862.60H399.30M384.50 980.70H399.30" stroke="#000" stroke-width="2.7" fill="none"/>
<rect x="386.50" y="916.70" width="10.80" height="10.80" fill="#000"/>
<path d="M457.80 999.90V1074.40M450.40 999.90H465.20M450.40 1074.40H465.20" stroke="#000" stroke-width="2.7" fill="none"/>
<rect x="452.40" y="1032.20" width="10.80" height="10.80" fill="#000"/>
<path d="M294.40 1404.30L493.50 1404.30" stroke="#ee0000" stroke-width="4.0" stroke-dasharray="15.6 4.25 7.7 4.25" fill="none"/>
<path d="M327.60 1395.60V1515.40M320.20 1395.60H335.00M320.20 1515.40H335.00" stroke="#000" stroke-width="2.7" fill="none"/>
<rect x="322.20" y="1450.50" width="10.80" height="10.80" fill="#000"/>
<path d="M394.20 1269.10V1318.40M386.80 1269.10H401.60M386.80 1318.40H401.60" stroke="#000" stroke-width="2.7" fill="none"/>
<rect x="388.80" y="1288.60" width="10.80" height="10.80" fill="#000"/>
<path d="M459.80 1412.60V1512.50M452.40 1412.60H467.20M452.40 1512.50H467.20" stroke="#000" stroke-width="2.7" fill="none"/>
<rect x="454.40" y="1457.00" width="10.80" height="10.80" fill="#000"/>
<path d="M622.53 192.10L681.47 71.40" stroke="#ee0000" stroke-width="4.0" stroke-dasharray="15.6 4.25 7.7 4.25" fill="none"/>
<path d="M622.53 216.50L681.47 131.40" stroke="#ee0000" stroke-width="4.0" stroke-dasharray="15.6 4.25 7.7 4.25" fill="none"/>
<path d="M622.53 196.80L681.47 187.00" stroke="#ee0000" stroke-width="4.0" stroke-dasharray="15.6 4.25 7.7 4.25" fill="none"/>
<path d="M622.53 329.10L681.47 236.60" stroke="#ee0000" stroke-width="4.0" stroke-dasharray="15.6 4.25 7.7 4.25" fill="none"/>
<circle cx="622.53" cy="192.10" r="2.3" fill="#000"/>
<circle cx="681.47" cy="71.40" r="2.3" fill="#000"/>
<circle cx="622.53" cy="216.50" r="2.3" fill="#000"/>
<circle cx="681.47" cy="131.40" r="2.3" fill="#000"/>
<circle cx="622.53" cy="196.80" r="2.3" fill="#000"/>
<circle cx="681.47" cy="187.00" r="2.3" fill="#000"/>
<circle cx="622.53" cy="329.10" r="2.3" fill="#000"/>
<circle cx="681.47" cy="236.60" r="2.3" fill="#000"/>
<path d="M620.00 470.20L678.70 538.20" stroke="#007a00" stroke-width="4.0" stroke-dasharray="15.6 4.25 7.7 4.25" fill="none"/>
<path d="M620.00 532.90L678.70 608.40" stroke="#007a00" stroke-width="4.0" stroke-dasharray="15.6 4.25 7.7 4.25" fill="none"/>
<path d="M620.00 534.60L678.70 721.70" stroke="#007a00" stroke-width="4.0" stroke-dasharray="15.6 4.25 7.7 4.25" fill="none"/>
<path d="M620.00 562.60L678.70 689.00" stroke="#007a00" stroke-width="4.0" stroke-dasharray="15.6 4.25 7.7 4.25" fill="none"/>
<path d="M620.00 580.70L678.70 593.60" stroke="#007a00" stroke-width="4.0" stroke-dasharray="15.6 4.25 7.7 4.25" fill="none"/>
<path d="M620.00 589.20L678.70 598.70" stroke="#007a00" stroke-width="4.0" stroke-dasharray="15.6 4.25 7.7 4.25" fill="none"/>
<path d="M620.00 589.20L678.70 677.30" stroke="#007a00" stroke-width="4.0" stroke-dasharray="15.6 4.25 7.7 4.25" fill="none"/>
<path d="M620.00 636.20L678.70 693.60" stroke="#007a00" stroke-width="4.0" stroke-dasharray="15.6 4.25 7.7 4.25" fill="none"/>
<path d="M620.00 678.20L678.70 743.60" stroke="#007a00" stroke-width="4.0" stroke-dasharray="15.6 4.25 7.7 4.25" fill="none"/>
<circle cx="620.00" cy="470.20" r="2.3" fill="#000"/>
<circle cx="678.70" cy="538.20" r="2.3" fill="#000"/>
<circle cx="620.00" cy="532.90" r="2.3" fill="#000"/>
<circle cx="678.70" cy="608.40" r="2.3" fill="#000"/>
<circle cx="620.00" cy="534.60" r="2.3" fill="#000"/>
<circle cx="678.70" cy="721.70" r="2.3" fill="#000"/>
<circle cx="620.00" cy="562.60" r="2.3" fill="#000"/>
<circle cx="678.70" cy="689.00" r="2.3" fill="#000"/>
<circle cx="620.00" cy="580.70" r="2.3" fill="#000"/>
<circle cx="678.70" cy="593.60" r="2.3" fill="#000"/>
<circle cx="620.00" cy="589.20" r="2.3" fill="#000"/>
<circle cx="678.70" cy="598.70" r="2.3" fill="#000"/>
<circle cx="620.00" cy="589.20" r="2.3" fill="#000"/>
<circle cx="678.70" cy="677.30" r="2.3" fill="#000"/>
<circle cx="620.00" cy="636.20" r="2.3" fill="#000"/>
<circle cx="678.70" cy="693.60" r="2.3" fill="#000"/>
<circle cx="620.00" cy="678.20" r="2.3" fill="#000"/>
<circle cx="678.70" cy="743.60" r="2.3" fill="#000"/>
<path d="M621.70 996.00L679.40 983.20" stroke="#ee0000" stroke-width="4.0" stroke-dasharray="15.6 4.25 7.7 4.25" fill="none"/>
<path d="M621.70 1000.50L679.40 991.30" stroke="#ee0000" stroke-width="4.0" stroke-dasharray="15.6 4.25 7.7 4.25" fill="none"/>
<path d="M621.70 857.70L679.40 991.30" stroke="#007a00" stroke-width="4.0" stroke-dasharray="15.6 4.25 7.7 4.25" fill="none"/>
<path d="M621.70 937.30L679.40 1124.30" stroke="#007a00" stroke-width="4.0" stroke-dasharray="15.6 4.25 7.7 4.25" fill="none"/>
<path d="M621.70 952.90L679.40 1001.80" stroke="#007a00" stroke-width="4.0" stroke-dasharray="15.6 4.25 7.7 4.25" fill="none"/>
<path d="M621.70 972.80L679.40 996.40" stroke="#007a00" stroke-width="4.0" stroke-dasharray="15.6 4.25 7.7 4.25" fill="none"/>
<path d="M621.70 991.30L679.40 1056.30" stroke="#007a00" stroke-width="4.0" stroke-dasharray="15.6 4.25 7.7 4.25" fill="none"/>
<path d="M621.70 996.00L679.40 1042.70" stroke="#007a00" stroke-width="4.0" stroke-dasharray="15.6 4.25 7.7 4.25" fill="none"/>
<path d="M621.70 1064.60L679.40 1068.40" stroke="#007a00" stroke-width="4.0" stroke-dasharray="15.6 4.25 7.7 4.25" fill="none"/>
<circle cx="621.70" cy="996.00" r="2.3" fill="#000"/>
<circle cx="679.40" cy="983.20" r="2.3" fill="#000"/>
<circle cx="621.70" cy="1000.50" r="2.3" fill="#000"/>
<circle cx="679.40" cy="991.30" r="2.3" fill="#000"/>
<circle cx="621.70" cy="857.70" r="2.3" fill="#000"/>
<circle cx="679.40" cy="991.30" r="2.3" fill="#000"/>
<circle cx="621.70" cy="937.30" r="2.3" fill="#000"/>
<circle cx="679.40" cy="1124.30" r="2.3" fill="#000"/>
<circle cx="621.70" cy="952.90" r="2.3" fill="#000"/>
<circle cx="679.40" cy="1001.80" r="2.3" fill="#000"/>
<circle cx="621.70" cy="972.80" r="2.3" fill="#000"/>
<circle cx="679.40" cy="996.40" r="2.3" fill="#000"/>
<circle cx="621.70" cy="991.30" r="2.3" fill="#000"/>
<circle cx="679.40" cy="1056.30" r="2.3" fill="#000"/>
<circle cx="621.70" cy="996.00" r="2.3" fill="#000"/>
<circle cx="679.40" cy="1042.70" r="2.3" fill="#000"/>
<circle cx="621.70" cy="1064.60" r="2.3" fill="#000"/>
<circle cx="679.40" cy="1068.40" r="2.3" fill="#000"/>
<path d="M624.20 1260.30L681.90 1323.40" stroke="#007a00" stroke-width="4.0" stroke-dasharray="15.6 4.25 7.7 4.25" fill="none"/>
<path d="M624.20 1314.70L681.90 1419.70" stroke="#007a00" stroke-width="4.0" stroke-dasharray="15.6 4.25 7.7 4.25" fill="none"/>
<path d="M624.20 1372.70L681.90 1428.80" stroke="#007a00" stroke-width="4.0" stroke-dasharray="15.6 4.25 7.7 4.25" fill="none"/>
<path d="M624.20 1386.20L681.90 1517.70" stroke="#007a00" stroke-width="4.0" stroke-dasharray="15.6 4.25 7.7 4.25" fill="none"/>
<path d="M624.20 1395.30L681.90 1455.70" stroke="#007a00" stroke-width="4.0" stroke-dasharray="15.6 4.25 7.7 4.25" fill="none"/>
<path d="M624.20 1407.20L681.90 1477.30" stroke="#007a00" stroke-width="4.0" stroke-dasharray="15.6 4.25 7.7 4.25" fill="none"/>
<path d="M624.20 1417.20L681.90 1475.10" stroke="#007a00" stroke-width="4.0" stroke-dasharray="15.6 4.25 7.7 4.25" fill="none"/>
<path d="M624.20 1421.50L681.90 1490.80" stroke="#007a00" stroke-width="4.0" stroke-dasharray="15.6 4.25 7.7 4.25" fill="none"/>
<path d="M624.20 1470.30L681.90 1536.20" stroke="#007a00" stroke-width="4.0" stroke-dasharray="15.6 4.25 7.7 4.25" fill="none"/>
<circle cx="624.20" cy="1260.30" r="2.3" fill="#000"/>
<circle cx="681.90" cy="1323.40" r="2.3" fill="#000"/>
<circle cx="624.20" cy="1314.70" r="2.3" fill="#000"/>
<circle cx="681.90" cy="1419.70" r="2.3" fill="#000"/>
<circle cx="624.20" cy="1372.70" r="2.3" fill="#000"/>
<circle cx="681.90" cy="1428.80" r="2.3" fill="#000"/>
<circle cx="624.20" cy="1386.20" r="2.3" fill="#000"/>
<circle cx="681.90" cy="1517.70" r="2.3" fill="#000"/>
<circle cx="624.20" cy="1395.30" r="2.3" fill="#000"/>
<circle cx="681.90" cy="1455.70" r="2.3" fill="#000"/>
<circle cx="624.20" cy="1407.20" r="2.3" fill="#000"/>
<circle cx="681.90" cy="1477.30" r="2.3" fill="#000"/>
<circle cx="624.20" cy="1417.20" r="2.3" fill="#000"/>
<circle cx="681.90" cy="1475.10" r="2.3" fill="#000"/>
<circle cx="624.20" cy="1421.50" r="2.3" fill="#000"/>
<circle cx="681.90" cy="1490.80" r="2.3" fill="#000"/>
<circle cx="624.20" cy="1470.30" r="2.3" fill="#000"/>
<circle cx="681.90" cy="1536.20" r="2.3" fill="#000"/>
</svg>
</body></html>
